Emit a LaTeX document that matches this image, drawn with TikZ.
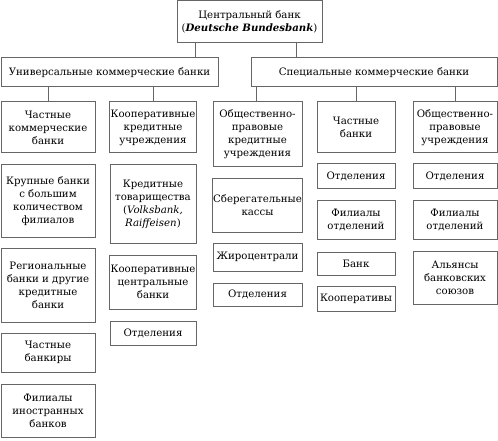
\documentclass[tikz,border=0pt]{standalone}
\usepackage{fontspec}
\setmainfont{DejaVu Serif}
\begin{document}
\begin{tikzpicture}[x=1pt,y=-1pt,
  box/.style={draw=black!60, line width=1pt, text=black, align=center, inner sep=1pt,
    font=\fontsize{10.2}{13}\selectfont, minimum width=#1},
  box/.default=80pt,
  conn/.style={draw=black!60, line width=1pt}]
\useasboundingbox (0,0) rectangle (498,441);
% top levels
\node[box=145pt, minimum height=42pt] (central) at (249.5,22) {Центральный банк\\(\textbf{\textit{Deutsche Bundesbank}})};
\node[box=217pt, minimum height=29pt] (univ) at (109.5,72.5) {Универсальные коммерческие банки};
\node[box=246pt, minimum height=29pt] (spec) at (374,72.5) {Специальные коммерческие банки};
% level 3
\node[box=94pt, minimum height=51pt] (c1) at (48,127.5) {Частные\\коммерческие\\банки};
\node[box=86pt, minimum height=51pt] (c2) at (153,127.5) {Кооперативные\\кредитные\\учреждения};
\node[box=89pt, minimum height=65pt] (c3) at (257.5,134.5) {Общественно-\\правовые\\кредитные\\учреждения};
\node[box=78pt, minimum height=51pt] (c4) at (356,127.5) {Частные\\банки};
\node[box=84pt, minimum height=51pt] (c5) at (455,127.5) {Общественно-\\правовые\\учреждения};
% column 1
\node[box=94pt, minimum height=72pt] (c1a) at (48,201) {Крупные банки\\с большим\\количеством\\филиалов};
\node[box=94pt, minimum height=74pt] (c1b) at (48,285) {Региональные\\банки и другие\\кредитные\\банки};
\node[box=94pt, minimum height=39pt] (c1c) at (48,352.5) {Частные\\банкиры};
\node[box=94pt, minimum height=53pt] (c1d) at (48,410.5) {Филиалы\\иностранных\\банков};
% column 2
\node[box=86pt, minimum height=78pt] (c2a) at (153,204) {Кредитные\\товарищества\\(\textit{Volksbank,}\\\textit{Raiffeisen})};
\node[box=86pt, minimum height=54pt] (c2b) at (153,282) {Кооперативные\\центральные\\банки};
\node[box=86pt, minimum height=24pt] (c2c) at (153,333) {Отделения};
% column 3
\node[box=89pt, minimum height=54pt] (c3a) at (257.5,205) {Сберегательные\\кассы};
\node[box=89pt, minimum height=28pt] (c3b) at (257.5,257) {Жироцентрали};
\node[box=89pt, minimum height=23pt] (c3c) at (257.5,294.5) {Отделения};
% column 4
\node[box=78pt, minimum height=24pt] (c4a) at (356,176) {Отделения};
\node[box=78pt, minimum height=39pt] (c4b) at (356,219.5) {Филиалы\\отделений};
\node[box=78pt, minimum height=23pt] (c4c) at (356,263.5) {Банк};
\node[box=78pt, minimum height=25pt] (c4d) at (356,298.5) {Кооперативы};
% column 5
\node[box=84pt, minimum height=24pt] (c5a) at (455,176) {Отделения};
\node[box=84pt, minimum height=39pt] (c5b) at (455,219.5) {Филиалы\\отделений};
\node[box=84pt, minimum height=53pt] (c5c) at (455,277.5) {Альянсы\\банковских\\союзов};
% connectors
\draw[conn] ([xshift=-54.5pt]central.south) -- ([xshift=-54.5pt]central.south |- univ.north);
\draw[conn] ([xshift=46.5pt]central.south) -- ([xshift=46.5pt]central.south |- spec.north);
\draw[conn] (c1.north) -- (c1.north |- univ.south);
\draw[conn] (c2.north) -- (c2.north |- univ.south);
\draw[conn] ([xshift=-1.5pt]c3.north) -- ([xshift=-1.5pt]c3.north |- spec.south);
\draw[conn] (c4.north) -- (c4.north |- spec.south);
\draw[conn] (c5.north) -- (c5.north |- spec.south);
\end{tikzpicture}
\end{document}
